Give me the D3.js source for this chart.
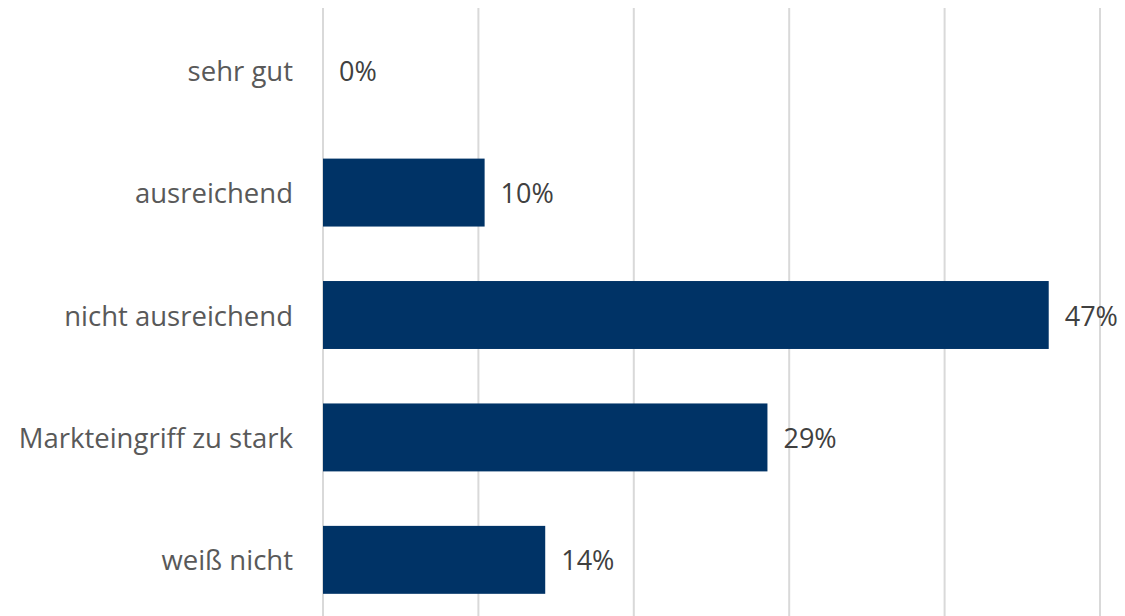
<!DOCTYPE html>
<html>
<head>
<meta charset="utf-8">
<script src="https://cdn.jsdelivr.net/npm/d3@7"></script>
<style>
  body { margin: 0; background: #fff; }
  svg { display: block; }
</style>
</head>
<body>
<svg width="1125" height="616"></svg>
<script>
const categories = ["sehr gut", "ausreichend", "nicht ausreichend", "Markteingriff zu stark", "weiß nicht"];
const values = [0, 10.4, 46.7, 28.6, 14.3];
const valueLabels = ["0%", "10%", "47%", "29%", "14%"];
const gridTicks = [0, 10, 20, 30, 40, 50];

const svg = d3.select("svg");
const width = 1125, height = 616;

const x = d3.scaleLinear().domain([0, 50]).range([323, 1100]);
const y = d3.scaleBand().domain(categories).range([9, 621]).paddingInner(0.445).paddingOuter(0.222);

// gridlines
svg.append("g").selectAll("line")
  .data(gridTicks)
  .join("line")
  .attr("x1", d => x(d)).attr("x2", d => x(d))
  .attr("y1", 8).attr("y2", height)
  .attr("stroke", "#d9d9d9")
  .attr("stroke-width", 2);

// bars
svg.append("g").selectAll("rect")
  .data(categories)
  .join("rect")
  .attr("x", x(0))
  .attr("y", d => y(d))
  .attr("width", (d, i) => x(values[i]) - x(0))
  .attr("height", y.bandwidth())
  .attr("fill", "#003366");

// value labels
svg.append("g").selectAll("text")
  .data(categories)
  .join("text")
  .attr("x", (d, i) => x(values[i]) + 16)
  .attr("y", d => y(d) + y.bandwidth() / 2)
  .attr("dominant-baseline", "central")
  .style("font-family", "'Open Sans', sans-serif")
  .style("font-size", "27px")
  .attr("fill", "#404040")
  .text((d, i) => valueLabels[i]);

// category labels
svg.append("g").selectAll("text")
  .data(categories)
  .join("text")
  .attr("x", 293)
  .attr("y", d => y(d) + y.bandwidth() / 2)
  .attr("text-anchor", "end")
  .attr("dominant-baseline", "central")
  .style("font-family", "'Open Sans', sans-serif")
  .style("font-size", "27.5px")
  .attr("fill", "#595959")
  .text(d => d);
</script>
</body>
</html>
